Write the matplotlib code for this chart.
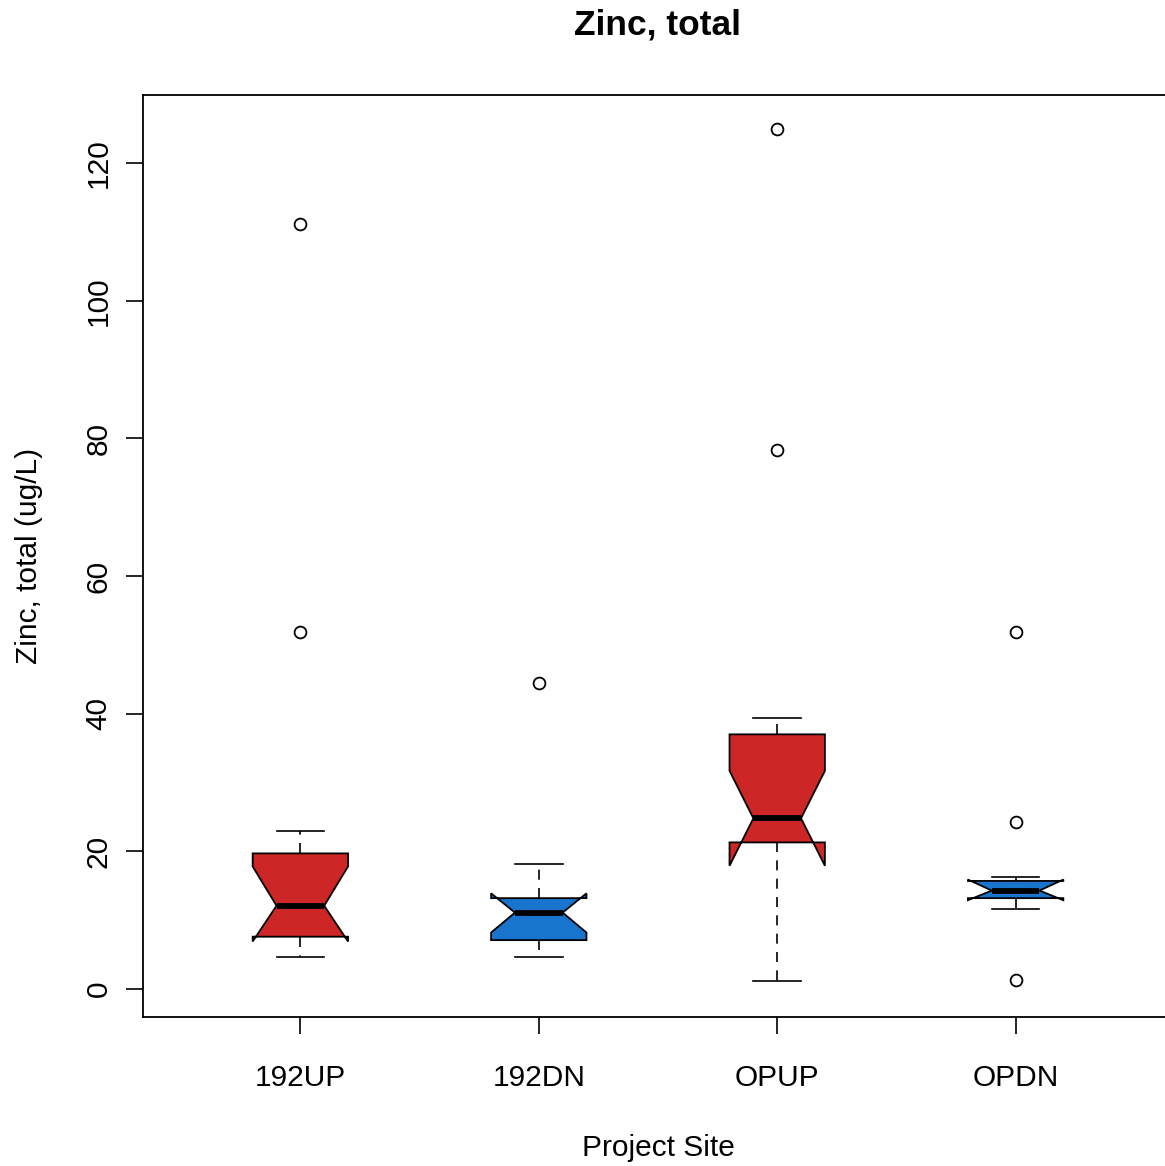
import matplotlib
matplotlib.use("Agg")
import matplotlib.pyplot as plt

plt.rcParams['font.family'] = ['Liberation Sans', 'DejaVu Sans']

sites = ["192UP", "192DN", "OPUP", "OPDN"]
q1 = [7.6, 7.1, 21.3, 13.2]
med = [12.1, 11.1, 24.8, 14.3]
q3 = [19.7, 13.2, 37.0, 15.7]
ci_lo = [6.9, 8.2, 17.9, 12.9]
ci_hi = [17.8, 13.9, 31.7, 15.9]
whis_lo = [4.65, 4.6, 1.1, 11.6]
whis_hi = [22.95, 18.1, 39.4, 16.2]
outliers = [[51.9, 111.1], [44.5], [78.3, 124.9], [1.3, 24.3, 51.9]]
colors = ["#CD2626", "#1874CD", "#CD2626", "#1874CD"]
yticks = [0, 20, 40, 60, 80, 100, 120]

fig = plt.figure(figsize=(11.65, 11.66), dpi=100)
ax = fig.add_axes([143/1165, 1 - 1017/1166, (1173 - 143)/1165, (1017 - 95)/1166])

stats = []
for i in range(len(sites)):
    stats.append(dict(label=sites[i], q1=q1[i], med=med[i], q3=q3[i],
                      cilo=ci_lo[i], cihi=ci_hi[i],
                      whislo=whis_lo[i], whishi=whis_hi[i],
                      fliers=outliers[i]))

bp = ax.bxp(stats, positions=[1, 2, 3, 4], widths=0.4, capwidths=0.2,
            shownotches=True, patch_artist=True,
            boxprops=dict(edgecolor='black', linewidth=1.3),
            medianprops=dict(color='black', linewidth=4.2, solid_capstyle='butt'),
            whiskerprops=dict(color='black', linewidth=1.2, linestyle=(0, (6, 5))),
            capprops=dict(color='black', linewidth=1.2),
            flierprops=dict(marker='o', markerfacecolor='none', markeredgecolor='black',
                            markersize=8.5, markeredgewidth=1.3, linestyle='none'))
for patch, c in zip(bp['boxes'], colors):
    patch.set_facecolor(c)

ax.set_xlim(0.34, 4.66)
ax.set_ylim(-4.07, 129.9)
ax.set_yticks(yticks)
ax.set_yticklabels([str(v) for v in yticks], rotation=90, va='center')
ax.set_xticks([1, 2, 3, 4])
ax.set_xticklabels(sites)
ax.tick_params(axis='both', labelsize=21.5, length=12, width=1.2, direction='out')
ax.tick_params(axis='x', pad=22)
ax.tick_params(axis='y', pad=10)
for s in ax.spines.values():
    s.set_linewidth(1.3)

ax.set_xlabel("Project Site", fontsize=21.5, labelpad=30)
ax.set_ylabel("Zinc, total (ug/L)", fontsize=21.5, labelpad=30)
fig.text(657/1165, 1 - 25/1166, "Zinc, total", fontsize=25.5, fontweight='bold',
         ha='center', va='center')

fig.savefig("out.png", dpi=100)
